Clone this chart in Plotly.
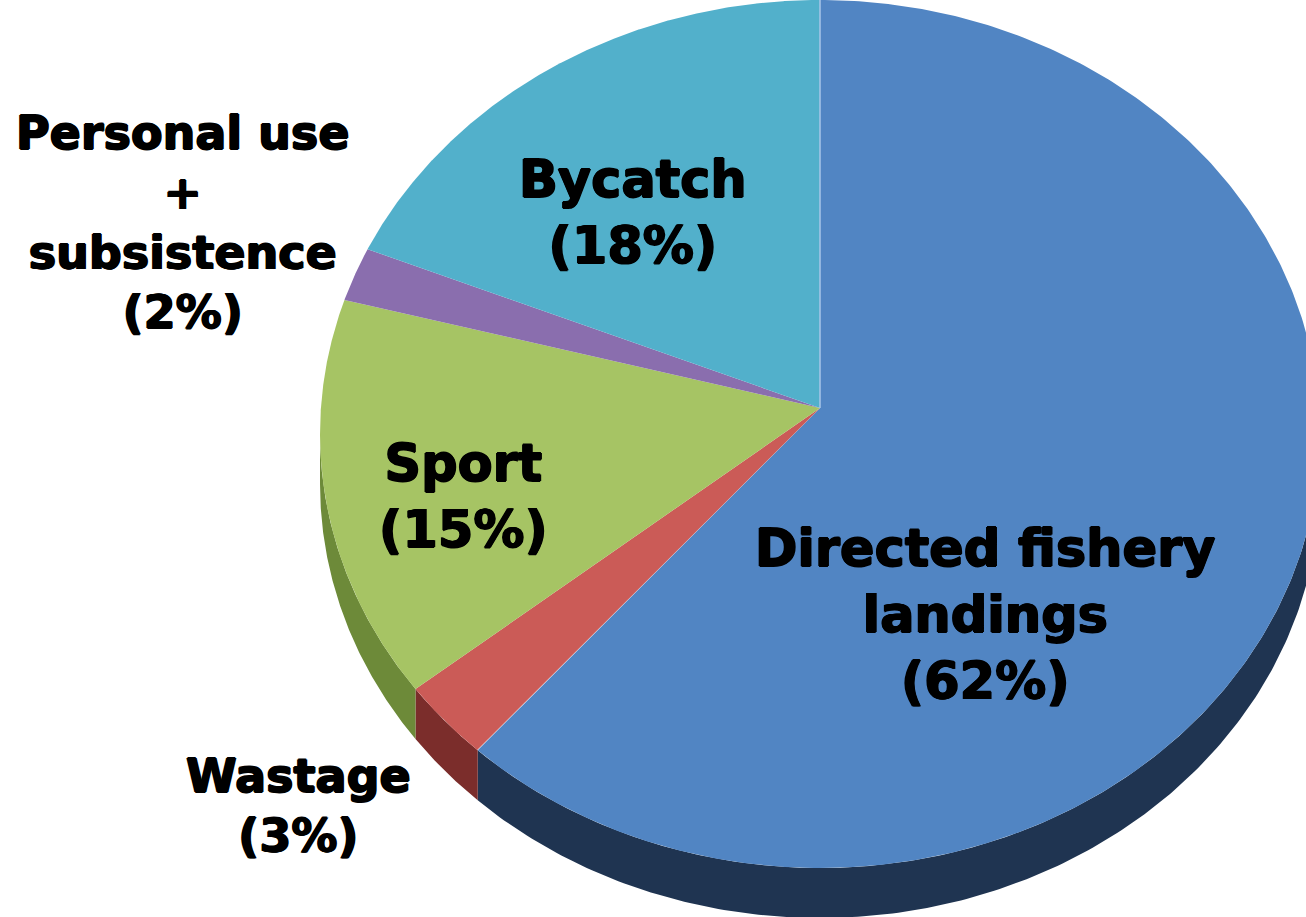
"""
3D-style pie of salmon catch shares, drawn with Plotly filled scatter shapes
"""

import numpy as np
import plotly.graph_objects as go

# data
categories = ["Directed fishery<br>landings", "Wastage", "Sport",
              "Personal use<br>+<br>subsistence", "Bycatch"]
shares = [62, 3, 15, 2, 18]

# styles
top_colors = ["#5185C3", "#CB5B57", "#A6C464", "#8A6EAE", "#52B0CB"]
side_colors = ["#1F3451", "#7B2D2B", "#6D8A39", "#5A4478", "#2D7488"]
label_pos = [(985, 615), (298, 806), (463, 496), (182, 222), (633, 212)]
label_size = [51, 46, 51, 46, 51]

# pie geometry in page pixels
W, H = 1306, 917
CX, CY = 820, 434
RX, RY = 500, 434
APEX_Y = 408
DEPTH = 50


def rim(theta, drop=0):
    return CX + RX * np.sin(theta), CY - RY * np.cos(theta) + drop


fig = go.Figure()

fractions = np.cumsum([0] + shares) / sum(shares)
angles = fractions * 2 * np.pi

# side walls (only the front half of the pie shows them)
for i in range(len(shares)):
    a = max(angles[i], np.pi / 2)
    b = min(angles[i + 1], 3 * np.pi / 2)
    if b <= a:
        continue
    t = np.linspace(a, b, 200)
    x1, y1 = rim(t)
    x2, y2 = rim(t[::-1], DEPTH)
    fig.add_trace(go.Scatter(
        x=np.concatenate([x1, x2]), y=np.concatenate([y1, y2]),
        fill='toself', mode='lines', line=dict(width=0),
        fillcolor=side_colors[i], hoverinfo='skip', showlegend=False
    ))

# top faces
for i in range(len(shares)):
    t = np.linspace(angles[i], angles[i + 1], 400)
    x, y = rim(t)
    fig.add_trace(go.Scatter(
        x=np.concatenate([[CX], x, [CX]]), y=np.concatenate([[APEX_Y], y, [APEX_Y]]),
        fill='toself', mode='lines', line=dict(width=0),
        fillcolor=top_colors[i], name=categories[i].replace('<br>', ' '),
        hoverinfo='name', showlegend=False
    ))

# light seam between bycatch and directed fishery
fig.add_trace(go.Scatter(
    x=[CX, rim(angles[0])[0]], y=[APEX_Y, rim(angles[0])[1]],
    mode='lines', line=dict(width=1.5, color='#A9C6E8'),
    hoverinfo='skip', showlegend=False
))

thick = "0.9px 0 0 black, -0.9px 0 0 black, 0 0.7px 0 black, 0 -0.7px 0 black"
for i, cat in enumerate(categories):
    fig.add_annotation(
        x=label_pos[i][0], y=label_pos[i][1],
        text=f"{cat}<br>({shares[i]}%)",
        showarrow=False, xanchor='center', yanchor='middle',
        font=dict(family='DejaVu Sans', size=label_size[i], color='black',
                  weight='bold', shadow=thick)
    )

fig.update_layout(
    width=W, height=H,
    margin=dict(l=0, r=0, t=0, b=0),
    paper_bgcolor='white', plot_bgcolor='white',
    xaxis=dict(range=[0, W], visible=False, fixedrange=True),
    yaxis=dict(range=[H, 0], visible=False, fixedrange=True),
)

# drop the default body margin so the figure fills the window exactly
fig.write_html("out.html",
               config={'displayModeBar': False},
               post_script="document.body.style.margin='0';document.body.style.overflow='hidden';")
